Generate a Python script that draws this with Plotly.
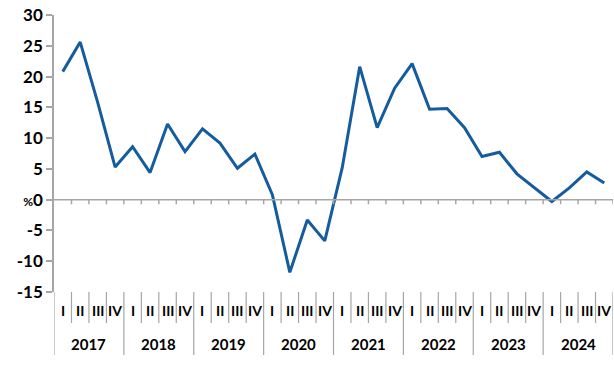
import plotly.graph_objects as go

years = ["2017", "2018", "2019", "2020", "2021", "2022", "2023", "2024"]
quarters = ["I", "II", "III", "IV"]
values = [
    20.8, 25.6, 15.8, 5.3,
    8.6, 4.4, 12.3, 7.8,
    11.5, 9.2, 5.1, 7.4,
    0.8, -11.8, -3.3, -6.7,
    5.2, 21.6, 11.7, 18.1,
    22.1, 14.7, 14.8, 11.7,
    7.0, 7.7, 4.2, 2.0,
    -0.3, 1.9, 4.5, 2.7,
]
y_ticks = [30, 25, 20, 15, 10, 5, 0, -5, -10, -15]

n = len(values)
x = [i + 0.5 for i in range(n)]
grey = "#a6a6a6"
font = "Lato"

fig = go.Figure(go.Scatter(x=x, y=values, mode="lines",
                           line=dict(color="#155c9e", width=3), hoverinfo="skip"))

shapes = []
# zero line and quarter ticks
shapes.append(dict(type="line", xref="x", yref="y", x0=-0.3, x1=n, y0=0, y1=0,
                   line=dict(color=grey, width=1.5)))
for k in range(1, n + 1):
    shapes.append(dict(type="line", xref="x", yref="y", x0=k, x1=k, y0=0, y1=-0.75,
                       line=dict(color=grey, width=1.5)))
# category separators below the plot
for k in range(0, n + 1):
    y1 = -0.227 if k % 4 == 0 else -0.112
    shapes.append(dict(type="line", xref="x", yref="paper", x0=k, x1=k, y0=0, y1=y1,
                       line=dict(color=grey, width=1.2)))

annotations = []
for i in range(n):
    annotations.append(dict(x=i + 0.5, y=-0.065, xref="x", yref="paper", yanchor="middle",
                            text="<b>" + quarters[i % 4] + "</b>", showarrow=False,
                            font=dict(family=font, size=14, color="black")))
for j, yr in enumerate(years):
    annotations.append(dict(x=j * 4 + 2, y=-0.188, xref="x", yref="paper", yanchor="middle",
                            text="<b>" + yr + "</b>", showarrow=False,
                            font=dict(family=font, size=15, color="black")))

ticktext = ["<b>%d</b>" % v if v != 0 else "<b><span style='font-size:12px'>%</span>0</b>"
            for v in y_ticks]

fig.update_layout(
    width=614, height=365,
    margin=dict(l=54, r=1, t=15, b=73),
    paper_bgcolor="white", plot_bgcolor="white",
    showlegend=False,
    shapes=shapes, annotations=annotations,
    xaxis=dict(range=[0, n], showgrid=False, zeroline=False, showticklabels=False,
               showline=False, ticks=""),
    yaxis=dict(range=[-15, 30], tickvals=y_ticks, ticktext=ticktext,
               showgrid=False, zeroline=False, showline=True, linecolor=grey, linewidth=1.5,
               ticks="outside", ticklen=6, tickcolor=grey, tickwidth=1.5,
               ticklabeloverflow="allow",
               tickfont=dict(family=font, size=17, color="black")),
)

# drop the default page margin so the figure fills the window
fig.write_html("out.html", config={"displayModeBar": False},
               post_script="document.body.style.margin='0';")
